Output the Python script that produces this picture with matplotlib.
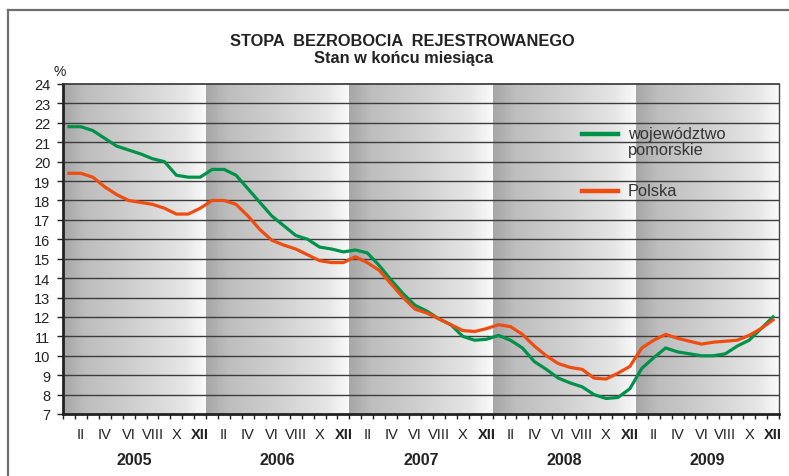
import numpy as np
import matplotlib
matplotlib.use("Agg")
import matplotlib.pyplot as plt
from matplotlib.colors import LinearSegmentedColormap
from matplotlib.lines import Line2D

plt.rcParams['font.family'] = ['Liberation Sans', 'DejaVu Sans']

# ---------------------------------------------------------
# Data (stopa bezrobocia, stan w koncu miesiaca, %)
# ---------------------------------------------------------
years = ['2005', '2006', '2007', '2008', '2009']
month_labels = ['', 'II', '', 'IV', '', 'VI', '', 'VIII', '', 'X', '', 'XII']

polska = [19.4, 19.4, 19.2, 18.7, 18.3, 18.0, 17.9, 17.8, 17.6, 17.3, 17.3, 17.6,
          18.0, 18.0, 17.8, 17.2, 16.5, 15.95, 15.7, 15.5, 15.2, 14.9, 14.8, 14.8,
          15.1, 14.8, 14.4, 13.7, 13.0, 12.4, 12.2, 11.9, 11.6, 11.3, 11.25, 11.4,
          11.6, 11.5, 11.1, 10.5, 10.0, 9.6, 9.4, 9.3, 8.85, 8.8, 9.1, 9.45,
          10.4, 10.8, 11.1, 10.9, 10.75, 10.6, 10.7, 10.75, 10.8, 11.05, 11.4, 11.85]

pomorskie = [21.8, 21.8, 21.6, 21.2, 20.8, 20.6, 20.4, 20.15, 20.0, 19.3, 19.2, 19.2,
             19.6, 19.6, 19.3, 18.6, 17.9, 17.2, 16.7, 16.2, 16.0, 15.6, 15.5, 15.35,
             15.45, 15.3, 14.65, 13.9, 13.2, 12.6, 12.3, 11.9, 11.6, 11.0, 10.8, 10.85,
             11.05, 10.8, 10.4, 9.7, 9.3, 8.85, 8.6, 8.4, 8.0, 7.8, 7.85, 8.3,
             9.35, 9.9, 10.4, 10.2, 10.1, 10.0, 10.0, 10.1, 10.5, 10.8, 11.4, 12.0]

green = '#00924a'
orange = '#ef4c10'

# ---------------------------------------------------------
# Figure
# ---------------------------------------------------------
fig = plt.figure(figsize=(7.89, 4.77), dpi=100)
W, H = 789, 477

# outer frame (top + left)
fig.add_artist(Line2D([8 / W, 1], [1 - 11 / H, 1 - 11 / H], color='#6e6e6e', lw=1.6))
fig.add_artist(Line2D([8 / W, 8 / W], [0, 1 - 11 / H], color='#6e6e6e', lw=1.6))

ax = fig.add_axes([63 / W, 1 - 415 / H, (779 - 63) / W, (415 - 85) / H])

n = len(polska)
x = np.arange(n)

# background gradient per year
cmap = LinearSegmentedColormap.from_list('band', [(0, '#a6a6a6'), (0.15, '#bdbdbd'), (0.5, '#d0d0d0'),
                                                  (0.85, '#e6e6e6'), (1, '#fbfbfb')])
grad = np.linspace(0, 1, 256).reshape(1, -1)
for k in range(len(years)):
    ax.imshow(grad, cmap=cmap, aspect='auto', extent=(k * 12 - 0.5, k * 12 + 11.5, 7, 24), zorder=0)

ax.set_xlim(-0.5, n - 0.5)
ax.set_ylim(7, 24)

for yv in range(8, 24):
    ax.axhline(yv, color='#3c3c3c', lw=1.0, zorder=1)

ax.plot(x, pomorskie, color=green, lw=2.3, zorder=3, solid_joinstyle='round')
ax.plot(x, polska, color=orange, lw=2.3, zorder=3, solid_joinstyle='round')

# spines
ax.spines['left'].set_linewidth(2.0)
ax.spines['bottom'].set_linewidth(2.0)
ax.spines['left'].set_color('#222222')
ax.spines['bottom'].set_color('#222222')
ax.spines['top'].set_color('#333333')
ax.spines['right'].set_color('#444444')
ax.spines['top'].set_linewidth(1.2)
ax.spines['right'].set_linewidth(1.0)

# y axis
ax.set_yticks(range(7, 25))
ax.tick_params(axis='y', direction='out', length=4, width=1, colors='#222222', labelsize=10.5, pad=5)

# x axis: tick marks on month boundaries, labels under months
ax.set_xticks(np.arange(-0.5, n, 1.0), minor=True)
ax.set_xticks([])
ax.tick_params(axis='x', which='minor', direction='out', length=3.6, width=1, colors='#222222')

for i in range(n):
    lab = month_labels[i % 12]
    if lab:
        ax.text(i, -0.038, lab, transform=ax.get_xaxis_transform(), ha='center', va='top',
                fontsize=10.5, color='#222222', fontweight='bold' if lab == 'XII' else 'normal')

for k, yr in enumerate(years):
    ax.text(k * 12 + 5.5, -0.115, yr, transform=ax.get_xaxis_transform(), ha='center', va='top',
            fontsize=11.5, fontweight='bold', color='#222222')

# titles
fig.text(402 / W, 1 - 41 / H, 'STOPA  BEZROBOCIA  REJESTROWANEGO', ha='center', va='center',
         fontsize=11.8, fontweight='bold', color='#222222')
fig.text(404 / W, 1 - 58 / H, 'Stan w końcu miesiąca', ha='center', va='center',
         fontsize=11.8, fontweight='bold', color='#222222')
fig.text(60 / W, 1 - 72 / H, '%', ha='center', va='center', fontsize=10, color='#222222')

# legend
fig.add_artist(Line2D([582 / W, 618 / W], [1 - 135 / H, 1 - 135 / H], color=green, lw=3.2))
fig.text(628 / W, 1 - 134 / H, 'województwo', ha='left', va='center', fontsize=11.8, color='#333333')
fig.text(628 / W, 1 - 151 / H, 'pomorskie', ha='left', va='center', fontsize=11.8, color='#333333')
fig.add_artist(Line2D([582 / W, 618 / W], [1 - 192 / H, 1 - 192 / H], color=orange, lw=3.2))
fig.text(628 / W, 1 - 192 / H, 'Polska', ha='left', va='center', fontsize=11.8, color='#333333')

fig.savefig('out.png', dpi=100)
